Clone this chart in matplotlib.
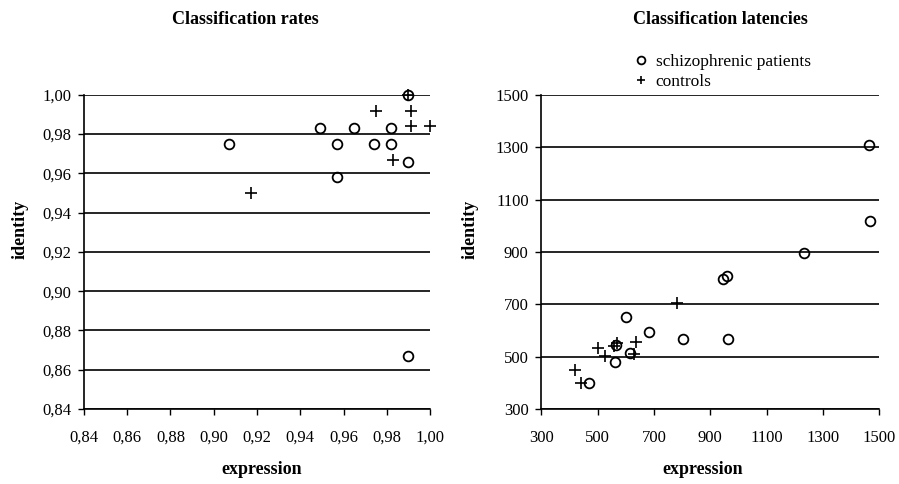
import numpy as np
import matplotlib.pyplot as plt
from matplotlib.ticker import FuncFormatter

# Classification rates (expression, identity)
rates_patients_x = [0.990, 0.949, 0.965, 0.982, 0.907, 0.957, 0.974, 0.982, 0.990, 0.957, 0.990]
rates_patients_y = [1.000, 0.983, 0.983, 0.983, 0.975, 0.975, 0.975, 0.975, 0.966, 0.958, 0.867]
rates_controls_x = [0.990, 0.975, 0.991, 0.991, 1.000, 0.983, 0.917]
rates_controls_y = [1.000, 0.992, 0.992, 0.984, 0.984, 0.967, 0.950]

# Classification latencies (expression, identity), ms
lat_patients_x = [1464, 1468, 1233, 945, 958, 602, 681, 805, 963, 565, 616, 563, 468]
lat_patients_y = [1310, 1020, 897, 797, 807, 650, 595, 566, 566, 545, 512, 480, 400]
lat_controls_x = [782, 637, 560, 570, 501, 630, 527, 421, 441]
lat_controls_y = [706, 557, 540, 552, 534, 510, 502, 448, 400]

rate_ticks = np.round(np.arange(0.84, 1.001, 0.02), 2)
lat_ticks = [300, 500, 700, 900, 1100, 1300, 1500]

plt.rcParams['font.family'] = ['Liberation Serif', 'DejaVu Serif']

fig = plt.figure(figsize=(8.99, 4.84), dpi=100)
ax1 = fig.add_axes([0.0934, 0.155, 0.385, 0.649])
ax2 = fig.add_axes([0.602, 0.155, 0.376, 0.649])


def comma_fmt(v, pos):
    return ('%.2f' % v).replace('.', ',')


def style_axis(ax):
    ax.spines['top'].set_visible(False)
    ax.spines['right'].set_visible(False)
    for s in ('left', 'bottom'):
        ax.spines[s].set_linewidth(1.2)
    ax.grid(axis='y', color='black', linewidth=1.2)
    ax.set_axisbelow(True)
    ax.tick_params(direction='out', length=4, width=1, labelsize=12)
    ax.tick_params(axis='x', pad=11)
    ax.tick_params(axis='y', pad=5)


def draw(ax, px, py, cx, cy):
    ax.plot(px, py, linestyle='none', marker='o', markersize=7, mfc='none',
            mec='black', mew=1.3, clip_on=False, label='schizophrenic patients')
    ax.plot(cx, cy, linestyle='none', marker='+', markersize=8, color='black',
            mew=1.2, clip_on=False, label='controls')


def labels(ax, ylab_x, xlab_x):
    ax.set_xlabel('expression', fontsize=13, fontweight='bold')
    ax.set_ylabel('identity', fontsize=13, fontweight='bold')
    ax.xaxis.set_label_coords(xlab_x, -0.194)
    ax.xaxis.label.set_va('center')
    ax.yaxis.set_label_coords(ylab_x, 0.573)
    ax.yaxis.label.set_va('center')


draw(ax1, rates_patients_x, rates_patients_y, rates_controls_x, rates_controls_y)
ax1.set_xlim(0.84, 1.00)
ax1.set_ylim(0.84, 1.00)
ax1.set_xticks(rate_ticks)
ax1.set_yticks(rate_ticks)
ax1.xaxis.set_major_formatter(FuncFormatter(comma_fmt))
ax1.yaxis.set_major_formatter(FuncFormatter(comma_fmt))
style_axis(ax1)
labels(ax1, -0.185, 0.514)

draw(ax2, lat_patients_x, lat_patients_y, lat_controls_x, lat_controls_y)
ax2.set_xlim(300, 1500)
ax2.set_ylim(300, 1500)
ax2.set_xticks(lat_ticks)
ax2.set_yticks(lat_ticks)
style_axis(ax2)
labels(ax2, -0.21, 0.479)

fig.text(245 / 899, 1 - 20 / 484, 'Classification rates', fontsize=13,
         fontweight='bold', ha='center', va='center')
fig.text(720 / 899, 1 - 20 / 484, 'Classification latencies', fontsize=13,
         fontweight='bold', ha='center', va='center')

leg = ax2.legend(loc='upper left', bbox_to_anchor=(626 / 899, 1 - 45 / 484),
                 bbox_transform=fig.transFigure, frameon=False, fontsize=12.5,
                 handlelength=0.7, handletextpad=0.5, labelspacing=0.25, borderpad=0,
                 markerscale=0.8)

fig.savefig('out.png', dpi=100)
